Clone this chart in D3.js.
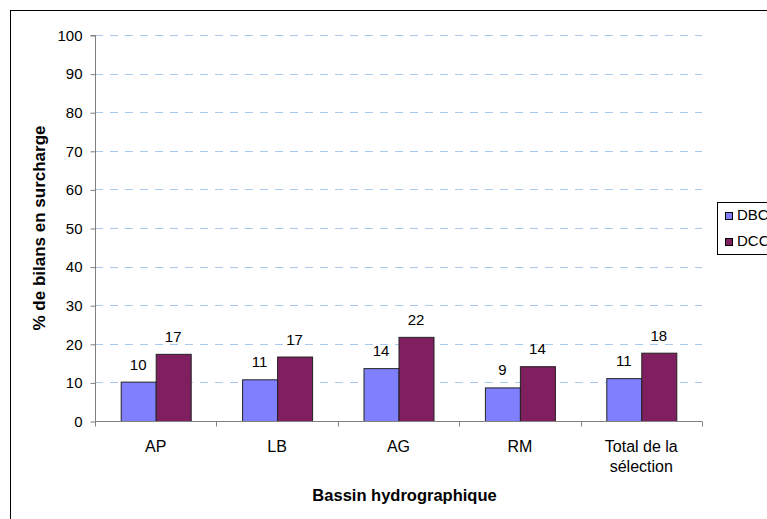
<!DOCTYPE html>
<html><head><meta charset="utf-8">
<script src="https://cdn.jsdelivr.net/npm/d3@7"></script>
<style>body{margin:0;background:#fff}svg{display:block}text{font-family:"Liberation Sans",Arial,sans-serif}</style>
</head><body><div id="c"></div>
<script>
const categories = ["AP", "LB", "AG", "RM", "Total de la sélection"];
const dbc = [10.2, 10.8, 13.7, 8.7, 11.1];
const dcc = [17.4, 16.7, 21.8, 14.2, 17.7];
const dbcLabels = [10, 11, 14, 9, 11];
const dccLabels = [17, 17, 22, 14, 18];
const seriesNames = ["DBC", "DCC"];
const yTicks = [0,10,20,30,40,50,60,70,80,90,100];

const W = 767, H = 519;
const svg = d3.select("#c").append("svg").attr("width", W).attr("height", H);
svg.append("rect").attr("x",10.5).attr("y",10.5).attr("width",W).attr("height",H).attr("fill","#fff").attr("stroke","#000");

const x0 = 95, x1 = 702, yTop = 35, yBot = 421;
const x = d3.scaleBand().domain(categories).range([x0, x1]).paddingInner(0).paddingOuter(0);
const y = d3.scaleLinear().domain([0,100]).range([yBot, yTop]);
const colors = ["#8080ff", "#7f1f5f"];
const barW = 35;

// gridlines
svg.append("g").selectAll("line").data(yTicks.filter(d=>d>0)).join("line")
  .attr("x1", x0).attr("x2", x1).attr("y1", d=>Math.round(y(d))+0.5).attr("y2", d=>Math.round(y(d))+0.5)
  .attr("stroke", "#a9c9ee").attr("stroke-dasharray", "8,7");

// bars
const series = [dbc, dcc];
const labels = [dbcLabels, dccLabels];
series.forEach((vals, si) => {
  svg.append("g").selectAll("rect").data(vals).join("rect")
    .attr("x", (d,i) => x(categories[i]) + x.bandwidth()/2 - barW + si*barW + 0.5)
    .attr("y", d => y(d) + 0.5)
    .attr("width", barW)
    .attr("height", d => yBot - y(d))
    .attr("fill", colors[si]).attr("stroke", "#222").attr("stroke-width", 1);
  svg.append("g").selectAll("text").data(vals).join("text")
    .attr("x", (d,i) => x(categories[i]) + x.bandwidth()/2 - barW/2 + si*barW)
    .attr("y", d => y(d) - 12)
    .attr("text-anchor", "middle").attr("font-size", 15).attr("fill", "#000")
    .text((d,i) => labels[si][i]);
});

// y axis
const yAxis = d3.axisLeft(y).tickValues(yTicks).tickSize(5).tickPadding(8);
const gy = svg.append("g").attr("transform", `translate(${x0+0.5},0.5)`).call(yAxis);
gy.select(".domain").attr("stroke", "#808080").attr("d", `M-5,${yTop}H0V${yBot}`);
gy.selectAll(".tick line").attr("stroke", "#808080");
gy.selectAll(".tick text").attr("font-size", 15).attr("fill", "#000").attr("font-family", '"Liberation Sans",Arial,sans-serif');

// x axis
const gx = svg.append("g").attr("transform", `translate(0,${yBot+0.5})`);
gx.append("line").attr("x1", x0).attr("x2", x1).attr("stroke", "#808080");
const edges = categories.map(c => x(c)).concat([x1]);
gx.selectAll("line.t").data(edges).join("line").attr("class","t")
  .attr("x1", d=>Math.round(d)+0.5).attr("x2", d=>Math.round(d)+0.5).attr("y1",0).attr("y2",5).attr("stroke","#808080");
const catLines = [["AP"],["LB"],["AG"],["RM"],["Total de la","sélection"]];
categories.forEach((c,i) => {
  const t = gx.append("text").attr("text-anchor","middle").attr("font-size",16).attr("fill","#000");
  catLines[i].forEach((ln,j) => t.append("tspan").attr("x", x(c)+x.bandwidth()/2).attr("y", 30 + j*20).text(ln));
});

// axis titles
svg.append("text").attr("x", (x0+x1)/2 + 6).attr("y", 501).attr("text-anchor","middle")
  .attr("font-size",16.5).attr("font-weight","bold").text("Bassin hydrographique");
svg.append("text").attr("transform", `translate(45,${(yTop+yBot)/2}) rotate(-90)`).attr("text-anchor","middle")
  .attr("font-size",17).attr("font-weight","bold").text("% de bilans en surcharge");

// legend
const lg = svg.append("g");
lg.append("rect").attr("x",717.5).attr("y",202.5).attr("width",80).attr("height",52).attr("fill","#fff").attr("stroke","#000");
seriesNames.forEach((n,i) => {
  lg.append("rect").attr("x",725.5).attr("y",212.5+i*26).attr("width",7).attr("height",7).attr("fill",colors[i]).attr("stroke","#000");
  lg.append("text").attr("x",737).attr("y",219.5+i*26).attr("font-size",15).text(n);
});
</script></body></html>
